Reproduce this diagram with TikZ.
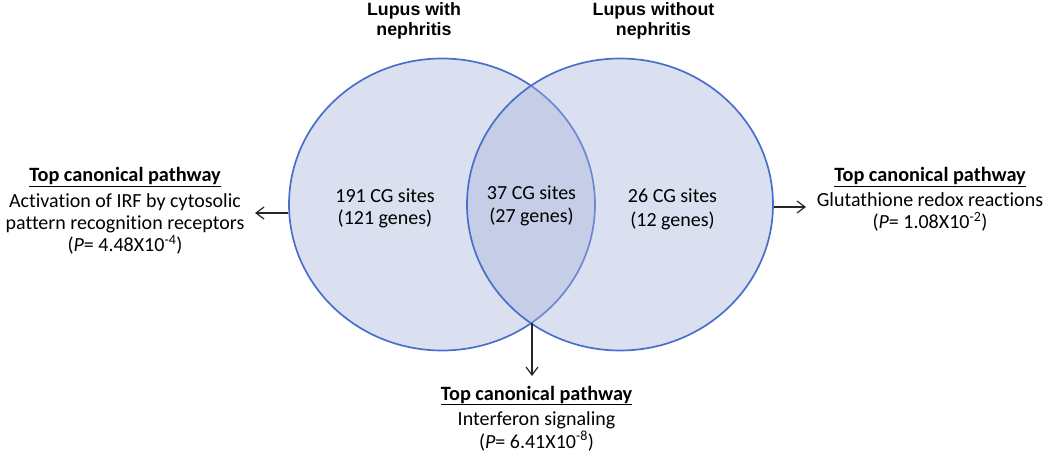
\documentclass[tikz,border=0pt]{standalone}
\usepackage{fontspec}
\setmainfont{Carlito}[Ligatures={NoCommon}]
\newfontfamily\titlefont{Liberation Sans}
\usetikzlibrary{shapes.geometric,arrows.meta}
\definecolor{vfill}{RGB}{219,224,240}
\definecolor{vfilltwo}{RGB}{165,178,218}
\definecolor{vline}{RGB}{74,111,203}
\begin{document}
\begin{tikzpicture}[x=1pt,y=-1pt,
  setcirc/.style={ellipse, draw=vline, line width=1.7pt, minimum width=306pt, minimum height=292pt, inner sep=0pt},
  body/.style={font=\fontsize{20}{22}\selectfont, anchor=base, inner sep=0pt},
  head/.style={font=\fontsize{20.3}{22}\selectfont\bfseries, anchor=base, inner sep=0pt},
  ttl/.style={font=\titlefont\bfseries\fontsize{17.8}{20}\selectfont, anchor=base, inner sep=0pt},
  arr/.style={-{Straight Barb[length=8pt,width=12pt]}, line width=1.2pt, black!85}]
\useasboundingbox (0,0) rectangle (1050,457);
\node[setcirc, fill=vfill] (L) at (442,204.5) {};
\node[setcirc, fill=vfilltwo, fill opacity=0.4] (R) at (620,204.5) {};
% titles
\node[ttl] (lt1) at (414,16) {Lupus with};
\node[ttl] (lt2) at (414,36) {nephritis};
\node[ttl] (rt1) at (653.5,16) {Lupus without};
\node[ttl] (rt2) at (653.5,36) {nephritis};
% set contents
\node[body] (l1) at (385,203) {191 CG sites};
\node[body] (l2) at (385,225) {(121 genes)};
\node[body] (m1) at (531.5,200) {37 CG sites};
\node[body] (m2) at (531.5,223) {(27 genes)};
\node[body] (r1) at (672.5,203) {26 CG sites};
\node[body] (r2) at (672.5,227) {(12 genes)};
% left pathway
\node[head] (lp1) at (125,182) {\underline{Top canonical pathway}};
\node[body] (lp2) at (125,208) {Activation of IRF by cytosolic};
\node[body] (lp3) at (125,230) {pattern recognition receptors};
\node[body] (lp4) at (125,252) {(\textit{P}= 4.48X10\textsuperscript{-4})};
% right pathway
\node[head] (rp1) at (930,182) {\underline{Top canonical pathway}};
\node[body] (rp2) at (930,207) {Glutathione redox reactions};
\node[body] (rp3) at (930,229) {(\textit{P}= 1.08X10\textsuperscript{-2})};
% bottom pathway
\node[head] (bp1) at (536.5,400) {\underline{Top canonical pathway}};
\node[body] (bp2) at (536.5,425) {Interferon signaling};
\node[body] (bp3) at (536.5,448) {(\textit{P}= 6.41X10\textsuperscript{-8})};
% arrows
\coordinate (la) at (255,213);
\coordinate (ra) at (806,207);
\coordinate (X) at (532,323.3);
\coordinate (ba) at (532,376);
\draw[arr] (L.183 |- la) -- (la);
\draw[arr] (R.-1 |- ra) -- (ra);
\draw[arr] (X) -- (ba);
\end{tikzpicture}
\end{document}
